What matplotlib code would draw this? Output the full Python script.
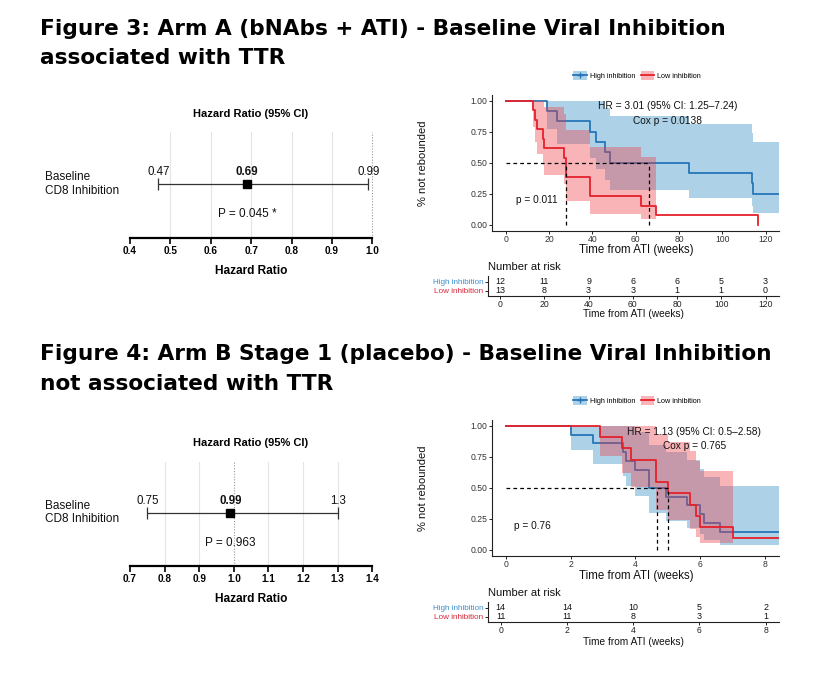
import matplotlib
matplotlib.use('Agg')
import matplotlib.pyplot as plt
from matplotlib.patches import Patch
from matplotlib.lines import Line2D

plt.rcParams['font.family'] = ['Liberation Sans', 'DejaVu Sans']

# ---------------- DATA ----------------
# Forest plots
fA_hr, fA_lo, fA_hi = 0.69, 0.47, 0.99
fA_p = "P = 0.045 *"
fA_ticks = [0.4, 0.5, 0.6, 0.7, 0.8, 0.9, 1.0]
fB_hr, fB_lo, fB_hi = 0.99, 0.75, 1.3
fB_p = "P = 0.963"
fB_ticks = [0.7, 0.8, 0.9, 1.0, 1.1, 1.2, 1.3, 1.4]

# Arm A Kaplan-Meier (weeks)
A_high_t = [0, 19.0, 23.6, 39.0, 41.6, 45.9, 47.9, 84.7, 113.7, 114.3]
A_high_s = [1.0, 0.917, 0.833, 0.750, 0.667, 0.583, 0.500, 0.417, 0.333, 0.250]
A_high_up = [1.0, 1.0, 1.0, 1.0, 0.995, 0.941, 0.880, 0.814, 0.742, 0.666]
A_high_lo = [1.0, 0.773, 0.647, 0.541, 0.447, 0.362, 0.284, 0.213, 0.150, 0.094]
A_high_end = 126.0
A_low_t = [0, 12.8, 13.5, 14.3, 17.1, 17.8, 27.0, 27.9, 39.0, 62.6, 69.5, 116.3]
A_low_s = [1.0, 0.923, 0.846, 0.769, 0.692, 0.615, 0.538, 0.385, 0.231, 0.154, 0.077, 0.0]
A_low_up = [1.0, 1.0, 1.0, 1.0, 0.995, 0.946, 0.891, 0.765, 0.623, 0.550]
A_low_lo = [1.0, 0.789, 0.671, 0.571, 0.482, 0.400, 0.326, 0.193, 0.086, 0.043]
A_medians = [27.9, 66.3]
A_hr_text = "HR = 3.01 (95% CI: 1.25\u20137.24)"
A_cox_text = "Cox p = 0.0138"
A_lr_text = "p = 0.011"
A_risk_t = [0, 20, 40, 60, 80, 100, 120]
A_risk_high = [12, 11, 9, 6, 6, 5, 3]
A_risk_low = [13, 8, 3, 3, 1, 1, 0]

# Arm B Kaplan-Meier (weeks)
B_high_t = [0, 2.0, 2.7, 3.62, 3.71, 4.0, 4.42, 4.93, 5.58, 6.0, 6.1, 6.6]
B_high_s = [1.0, 0.929, 0.857, 0.786, 0.714, 0.643, 0.500, 0.429, 0.357, 0.286, 0.214, 0.143]
B_high_up = [1.0, 1.0, 1.0, 1.0, 0.995, 0.950, 0.844, 0.785, 0.721, 0.654, 0.584, 0.515]
B_high_lo = [1.0, 0.803, 0.692, 0.598, 0.513, 0.435, 0.296, 0.234, 0.177, 0.125, 0.079, 0.040]
B_high_end = 8.42
B_low_t = [0, 2.91, 3.6, 3.86, 4.63, 5.0, 5.68, 5.88, 6.0, 7.0]
B_low_s = [1.0, 0.909, 0.818, 0.727, 0.545, 0.455, 0.364, 0.273, 0.182, 0.091]
B_low_up = [1.0, 1.0, 1.0, 1.0, 0.935, 0.868, 0.795, 0.716, 0.637]
B_low_lo = [1.0, 0.754, 0.619, 0.506, 0.318, 0.238, 0.166, 0.104, 0.052]
B_low_end = 8.42
B_medians = [4.68, 5.0]
B_hr_text = "HR = 1.13 (95% CI: 0.5\u20132.58)"
B_cox_text = "Cox p = 0.765"
B_lr_text = "p = 0.76"
B_risk_t = [0, 2, 4, 6, 8]
B_risk_high = [14, 14, 10, 5, 2]
B_risk_low = [11, 11, 8, 3, 1]

groups = ["High inhibition", "Low inhibition"]

# ---------------- STYLE ----------------
W, H = 825, 677
fig = plt.figure(figsize=(W / 100, H / 100), dpi=100)

BLUE = '#2675B8'
BLUE_TXT = '#3F8FCC'
BLUE_BAND = '#6BAED6'
RED = '#E5212B'
RED_TXT = '#D8283A'
RED_BAND = '#F03C46'
DARK = '#222222'


def px_axes(l, t, r, b):
    return fig.add_axes([l / W, 1 - b / H, (r - l) / W, (b - t) / H])


def ftext(x, y, s, **kw):
    return fig.text(x / W, 1 - y / H, s, **kw)


# ---------------- TITLES ----------------
tkw = dict(family='DejaVu Sans', weight='bold', fontsize=15.6, va='baseline', ha='left', color='black')
ftext(40, 35, "Figure 3: Arm A (bNAbs + ATI) - Baseline Viral Inhibition", **tkw)
ftext(40, 64.5, "associated with TTR", **tkw)
ftext(40, 360, "Figure 4: Arm B Stage 1 (placebo) - Baseline Viral Inhibition", **tkw)
ftext(40, 389.5, "not associated with TTR", **tkw)


# ---------------- FOREST ----------------
def forest(top, bottom, hr, lo, hi, ptxt, ticks, y_title, y_xlabel, y_label):
    ax = px_axes(130, top, 372.3, bottom)
    ax.set_xlim(ticks[0], ticks[-1])
    row_px = top + (bottom - top) * 0.49
    ax.set_ylim(-(bottom - row_px), row_px - top)
    for tk in ticks[1:-1]:
        if abs(tk - 1.0) > 1e-9:
            ax.axvline(tk, color='#e4e4e4', lw=0.8, zorder=0)
    ax.axvline(1.0, color='#9a9a9a', lw=0.8, ls=(0, (1, 1.5)), zorder=0, clip_on=False)
    ax.errorbar([hr], [0], xerr=[[hr - lo], [hi - hr]], fmt='s', color='black',
                ecolor='#333333', elinewidth=0.9, capsize=4, capthick=0.9, ms=6.2, zorder=3)
    for v, w in ((lo, 'normal'), (hr, 'bold'), (hi, 'normal')):
        ax.annotate(f"{v:g}", (v, 0), xytext=(0, 8.5), textcoords='offset points',
                    ha='center', va='center', fontsize=8.3, weight=w, color='#111111')
    ax.annotate(ptxt, (hr, 0), xytext=(0, -21.5), textcoords='offset points',
                ha='center', va='center', fontsize=8.5, color='#111111')
    for s in ('top', 'right', 'left'):
        ax.spines[s].set_visible(False)
    ax.spines['bottom'].set_linewidth(1.6)
    ax.set_yticks([])
    ax.set_xticks(ticks)
    ax.set_xticklabels([f"{t:.1f}" for t in ticks], fontsize=7.2, weight='bold')
    ax.tick_params(axis='x', length=4, width=1.2, pad=2)
    ftext(251, y_title, "Hazard Ratio (95% CI)", ha='center', va='center', fontsize=8, weight='bold')
    ftext(251, y_xlabel, "Hazard Ratio", ha='center', va='center', fontsize=8.6, weight='bold')
    ftext(45, y_label, "Baseline\nCD8 Inhibition", ha='left', va='center', fontsize=8.5,
          linespacing=1.15, color='#111111')


forest(131.7, 237.7, fA_hr, fA_lo, fA_hi, fA_p, fA_ticks, 114, 271, 184)
forest(461.7, 565.7, fB_hr, fB_lo, fB_hi, fB_p, fB_ticks, 443.3, 599, 512.5)


# ---------------- KM ----------------
def km(top, bottom, xmin, xmax, xticks, hi_t, hi_s, hi_up, hi_lo, hi_end,
       lo_t, lo_s, lo_up, lo_lo, lo_end, medians, hr_txt, hr_xy, cox_txt, cox_xy,
       lr_txt, lr_xy):
    ax = px_axes(491.7, top, 778.8, bottom)
    ax.set_xlim(xmin, xmax)
    ax.set_ylim(-0.048, 1.05)
    # high band + line
    bx = list(hi_t) + [hi_end]
    ax.fill_between(bx, list(hi_lo) + [hi_lo[-1]], list(hi_up) + [hi_up[-1]], step='post',
                    color=BLUE_BAND, alpha=0.55, lw=0, zorder=1)
    ax.step(bx, list(hi_s) + [hi_s[-1]], where='post', color=BLUE, lw=1.3, zorder=2)
    # low band (until last event) + line
    n = len(lo_up)
    rx = list(lo_t[:n]) + [lo_t[n]]
    ax.fill_between(rx, list(lo_lo) + [lo_lo[-1]], list(lo_up) + [lo_up[-1]], step='post',
                    color=RED_BAND, alpha=0.38, lw=0, zorder=3)
    if lo_end is None:
        lx, ly = list(lo_t), list(lo_s)
    else:
        lx, ly = list(lo_t) + [lo_end], list(lo_s) + [lo_s[-1]]
    ax.step(lx, ly, where='post', color=RED, lw=1.3, zorder=4)
    # medians
    dkw = dict(color='black', lw=0.9, ls=(0, (3, 2.5)), zorder=5)
    ax.plot([0, max(medians)], [0.5, 0.5], **dkw)
    for m in medians:
        ax.plot([m, m], [0, 0.5], **dkw)
    ax.text(*hr_xy, hr_txt, ha='center', va='center', fontsize=7.3, color='#111111', zorder=6)
    ax.text(*cox_xy, cox_txt, ha='center', va='center', fontsize=7.3, color='#111111', zorder=6)
    ax.text(*lr_xy, lr_txt, ha='center', va='center', fontsize=7.3, color='#111111', zorder=6)
    for s in ('top', 'right'):
        ax.spines[s].set_visible(False)
    for s in ('left', 'bottom'):
        ax.spines[s].set_linewidth(0.8)
        ax.spines[s].set_color(DARK)
    ax.set_xticks(xticks)
    ax.set_xticklabels([str(t) for t in xticks], fontsize=6.2, color='#333333')
    ax.set_yticks([0, 0.25, 0.5, 0.75, 1.0])
    ax.set_yticklabels(["0.00", "0.25", "0.50", "0.75", "1.00"], fontsize=6.2, color='#333333')
    ax.tick_params(length=2, width=0.7, pad=1, color=DARK)
    return ax


def legend(ycen):
    h1 = (Patch(facecolor=BLUE_BAND, alpha=0.55, edgecolor='none'),
          Line2D([], [], color=BLUE, lw=1.3, marker='+', ms=5, mew=1.0))
    h2 = (Patch(facecolor=RED_BAND, alpha=0.38, edgecolor='none'),
          Line2D([], [], color=RED, lw=1.3))
    fig.legend([h1, h2], groups, loc='center', bbox_to_anchor=(637 / W, 1 - ycen / H),
               ncol=2, frameon=False, fontsize=5.2, handlelength=1.9, handleheight=1.5,
               columnspacing=0.8, handletextpad=0.4, borderpad=0)


def risk(top, bottom, xmin, xmax, ticks, highs, lows, y_title, y_xlabel):
    ax = px_axes(487.7, top, 778.8, bottom)
    ax.set_xlim(xmin, xmax)
    ax.set_ylim(0.45, 2.62)
    for t, a, b in zip(ticks, highs, lows):
        ax.text(t, 2, str(a), ha='center', va='center', fontsize=6.4, color='#111111')
        ax.text(t, 1, str(b), ha='center', va='center', fontsize=6.4, color='#111111')
    ax.set_yticks([1, 2])
    ax.set_yticklabels([groups[1], groups[0]], fontsize=5.9)
    ax.get_yticklabels()[0].set_color(RED_TXT)
    ax.get_yticklabels()[1].set_color(BLUE_TXT)
    ax.set_xticks(ticks)
    ax.set_xticklabels([str(t) for t in ticks], fontsize=6.2, color='#222222')
    ax.tick_params(length=2, width=0.7, pad=1, color=DARK)
    for s in ('top', 'right'):
        ax.spines[s].set_visible(False)
    for s in ('left', 'bottom'):
        ax.spines[s].set_linewidth(0.8)
        ax.spines[s].set_color(DARK)
    ftext(488.3, y_title, "Number at risk", ha='left', va='center', fontsize=8, color='#111111')
    ftext(633.3, y_xlabel, "Time from ATI (weeks)", ha='center', va='center', fontsize=7.3,
          color='#111111')


# Arm A
km(94.5, 230.7, -6.47, 126.0, [0, 20, 40, 60, 80, 100, 120],
   A_high_t, A_high_s, A_high_up, A_high_lo, A_high_end,
   A_low_t, A_low_s, A_low_up, A_low_lo, None, A_medians,
   A_hr_text, (74.8, 0.955), A_cox_text, (74.8, 0.836), A_lr_text, (14.3, 0.2))
legend(75.7)
ftext(636, 250.5, "Time from ATI (weeks)", ha='center', va='center', fontsize=8.3, color='#111111')
ftext(423.3, 163, "% not rebounded", ha='center', va='center', rotation=90, fontsize=8, color='#111111')
risk(276.3, 295.9, -5.6, 126.0, A_risk_t, A_risk_high, A_risk_low, 267.3, 314)

# Arm B
km(419.5, 555.7, -0.431, 8.42, [0, 2, 4, 6, 8],
   B_high_t, B_high_s, B_high_up, B_high_lo, B_high_end,
   B_low_t, B_low_s, B_low_up, B_low_lo, B_low_end, B_medians,
   B_hr_text, (5.81, 0.95), B_cox_text, (5.82, 0.836), B_lr_text, (0.81, 0.194))
legend(400.7)
ftext(636, 575.5, "Time from ATI (weeks)", ha='center', va='center', fontsize=8.3, color='#111111')
ftext(423.3, 488.3, "% not rebounded", ha='center', va='center', rotation=90, fontsize=8, color='#111111')
risk(602.0, 621.7, -0.394, 8.40, B_risk_t, B_risk_high, B_risk_low, 593.3, 641.7)

fig.savefig('out.png', dpi=100)
